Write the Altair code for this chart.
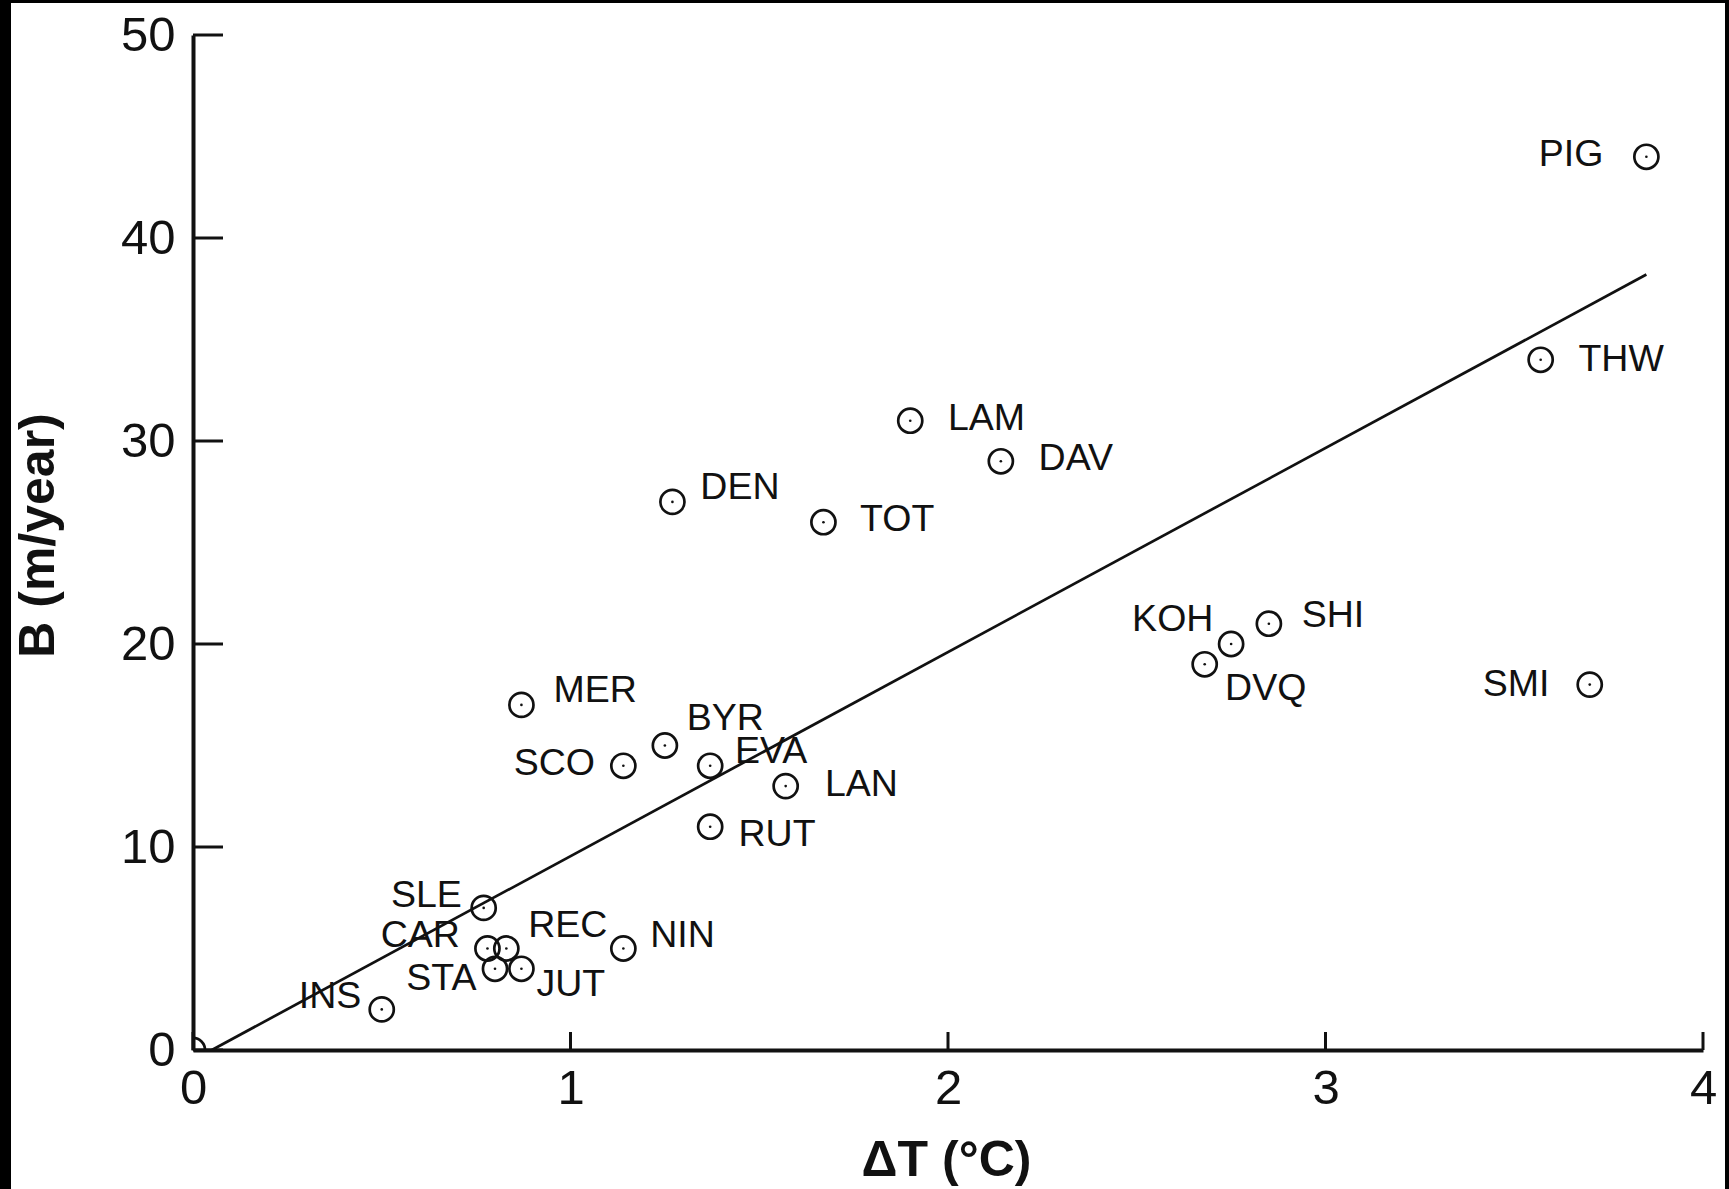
import altair as alt
import pandas as pd

# ---- data ----
NAMES = ["PIG", "THW", "SMI", "SHI", "KOH", "DVQ", "LAM", "DAV", "DEN", "TOT",
         "MER", "BYR", "SCO", "EVA", "LAN", "RUT", "SLE", "CAR", "REC", "NIN",
         "STA", "JUT", "INS"]
DT = [3.85, 3.57, 3.70, 2.85, 2.75, 2.68, 1.90, 2.14, 1.27, 1.67,
      0.87, 1.25, 1.14, 1.37, 1.57, 1.37, 0.77, 0.78, 0.83, 1.14,
      0.80, 0.87, 0.50]
B = [44, 34, 18, 21, 20, 19, 31, 29, 27, 26,
     17, 15, 14, 14, 13, 11, 7, 5, 5, 5,
     4, 4, 2]
# label anchor positions (data units)
LABEL_DT = [3.736, 3.670, 3.593, 2.937, 2.703, 2.734, 2.000, 2.240, 1.344, 1.767,
            0.955, 1.308, 1.065, 1.436, 1.674, 1.445, 0.712, 0.707, 0.888, 1.211,
            0.751, 0.910, 0.446]
LABEL_B = [44.1, 34.0, 18.0, 21.4, 21.2, 17.8, 31.1, 29.1, 27.7, 26.1,
           17.7, 16.3, 14.1, 14.7, 13.05, 10.6, 7.6, 5.6, 6.1, 5.6,
           3.5, 3.2, 2.6]
# labels that sit to the left of their point (right-aligned)
LEFT_LABELS = ["PIG", "SMI", "KOH", "SCO", "SLE", "CAR", "STA", "INS"]

ORIGIN_DT = [0.0]
ORIGIN_B = [0.0]

FIT_DT = [0.05, 3.85]
FIT_B = [0.0, 38.2]

X_TICKS = [0, 1, 2, 3, 4]
Y_TICKS = [0, 10, 20, 30, 40, 50]

# ---- layout / style ----
W, H = 1510, 1015
PAD = {"left": 193, "top": 35, "right": 26, "bottom": 139}
FONT = "Liberation Sans"
INK = "#111111"
X_TICK_LEN = 18
Y_TICK_LEN = 30

pts = pd.DataFrame({"name": NAMES, "dt": DT, "b": B})
allpts = pd.concat([pts[["dt", "b"]], pd.DataFrame({"dt": ORIGIN_DT, "b": ORIGIN_B})],
                   ignore_index=True)
labels = pd.DataFrame({"name": NAMES, "dt": LABEL_DT, "b": LABEL_B})
lab_left = labels[labels["name"].isin(LEFT_LABELS)]
lab_right = labels[~labels["name"].isin(LEFT_LABELS)]
fit = pd.DataFrame({"dt": FIT_DT, "b": FIT_B})

xscale = alt.Scale(domain=[0, 4], nice=False, zero=False)
yscale = alt.Scale(domain=[0, 50], nice=False, zero=False)

x_axis = alt.Axis(values=X_TICKS, ticks=False, tickSize=0, grid=False,
                  labelFont=FONT, labelFontSize=49, labelColor=INK,
                  labelPadding=14, labelFlush=False,
                  domainColor=INK, domainWidth=4,
                  title="ΔT (°C)", titleFont=FONT, titleFontSize=50,
                  titleFontWeight="bold", titleColor=INK,
                  titleX=753, titleY=125, titleBaseline="alphabetic",
                  titleAlign="center", zindex=2)
y_axis = alt.Axis(values=Y_TICKS, ticks=False, tickSize=0, grid=False,
                  labelFont=FONT, labelFontSize=49, labelColor=INK,
                  labelPadding=18, labelFlush=False,
                  domainColor=INK, domainWidth=4,
                  title="B (m/year)", titleFont=FONT, titleFontSize=50,
                  titleFontWeight="bold", titleColor=INK,
                  titleX=-140, titleY=500, titleBaseline="alphabetic",
                  titleAlign="center", titleAngle=-90, zindex=2)

X = alt.X("dt:Q", scale=xscale, axis=x_axis)
Y = alt.Y("b:Q", scale=yscale, axis=y_axis)

# white page inside black frame
page = alt.Chart(pd.DataFrame({"a": [0]})).mark_rect(color="white").encode(
    x=alt.value(-(PAD["left"] - 11)), x2=alt.value(W + PAD["right"] - 4),
    y=alt.value(-(PAD["top"] - 3)), y2=alt.value(H + PAD["bottom"]))

line = alt.Chart(fit).mark_line(color=INK, strokeWidth=2.7).encode(x=X, y=Y)

rings = alt.Chart(allpts).mark_point(shape="circle", filled=False, color=INK,
                                     strokeWidth=2.7, size=580, opacity=1,
                                     clip=True).encode(x=X, y=Y)

dots = alt.Chart(pts).mark_circle(color=INK, size=7, opacity=1).encode(x=X, y=Y)

txt_r = alt.Chart(lab_right).mark_text(font=FONT, fontSize=37.5, color=INK,
                                       align="left", baseline="middle").encode(
    x=X, y=Y, text="name:N")
txt_l = alt.Chart(lab_left).mark_text(font=FONT, fontSize=37.5, color=INK,
                                      align="right", baseline="middle").encode(
    x=X, y=Y, text="name:N")

xt = alt.Chart(pd.DataFrame({"dt": X_TICKS})).mark_rule(color=INK, strokeWidth=3).encode(
    x=X, y=alt.value(H), y2=alt.value(H - X_TICK_LEN))
yt = alt.Chart(pd.DataFrame({"b": Y_TICKS})).mark_rule(color=INK, strokeWidth=3).encode(
    y=Y, x=alt.value(0), x2=alt.value(Y_TICK_LEN))

chart = alt.layer(page, line, rings, dots, txt_r, txt_l, xt, yt).properties(
    width=W, height=H,
    autosize=alt.AutoSizeParams(type="none"),
    padding=PAD,
    background="black",
).configure_view(stroke=None)

chart.save("out.html", embed_options={"renderer": "svg", "actions": False})
